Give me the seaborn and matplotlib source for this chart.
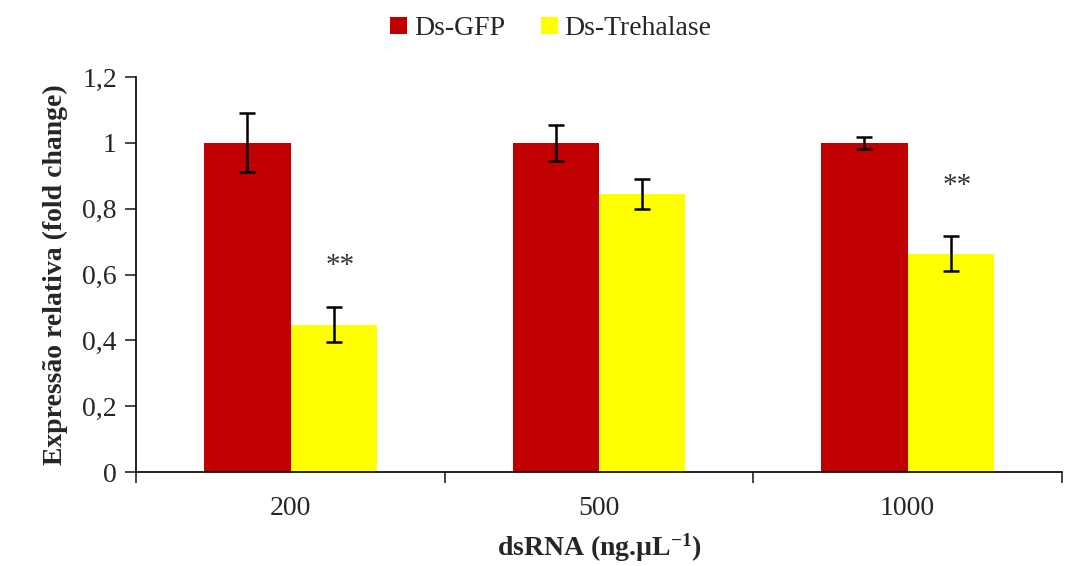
import numpy as np
import pandas as pd
import seaborn as sns
import matplotlib.pyplot as plt

# --- data ---
doses = ["200", "500", "1000"]
groups = ["Ds-GFP", "Ds-Trehalase"]
gfp_vals = [1.0, 1.0, 1.0]
gfp_err = [0.09, 0.055, 0.018]
treh_vals = [0.447, 0.845, 0.663]
treh_err = [0.053, 0.045, 0.053]
stars = ["**", "", "**"]
star_y = [0.625, 0, 0.87]
yticks = [0, 0.2, 0.4, 0.6, 0.8, 1.0, 1.2]
ytick_labels = ["0", "0,2", "0,4", "0,6", "0,8", "1", "1,2"]
colors = ["#C00000", "#FFFF00"]

sns.set_style("ticks")
plt.rcParams['font.family'] = ['Liberation Serif', 'DejaVu Serif']
plt.rcParams['mathtext.fontset'] = 'custom'
plt.rcParams['mathtext.rm'] = 'Liberation Serif:bold'
plt.rcParams['mathtext.default'] = 'rm'

df = pd.DataFrame({
    "dose": doses * 2,
    "group": [groups[0]] * 3 + [groups[1]] * 3,
    "val": gfp_vals + treh_vals,
})
errs = [gfp_err, treh_err]

fig = plt.figure(figsize=(10.65, 5.66), dpi=100)
ax = fig.add_axes([0.128, 0.166, 0.869, 0.698])

sns.barplot(data=df, x="dose", y="val", hue="group", palette=colors,
            width=0.56, saturation=1, errorbar=None, ax=ax, linewidth=0)

for cont, e in zip(ax.containers, errs):
    xs = [b.get_x() + b.get_width() / 2 for b in cont]
    hs = [b.get_height() for b in cont]
    ax.errorbar(xs, hs, yerr=e, fmt="none", ecolor="black", elinewidth=1.8,
                capsize=6, capthick=1.8)

treh_bars = ax.containers[1]
for b, s, y in zip(treh_bars, stars, star_y):
    if s:
        ax.text(b.get_x() + b.get_width() / 2 + 0.02, y, s, ha="center", va="center",
                fontsize=21, color="#333333")

ax.set_xlim(-0.5, 2.5)
ax.set_ylim(0, 1.2)
ax.set_yticks(yticks, ytick_labels)
ax.set_xticks([-0.5, 0.5, 1.5, 2.5], minor=True)
ax.tick_params(axis="x", which="major", length=0, pad=17, labelsize=20)
ax.tick_params(axis="x", which="minor", length=8, width=1.2, direction="out")
ax.tick_params(axis="y", length=8, width=1.2, labelsize=20, pad=6)
sns.despine(ax=ax)
for sp in ["left", "bottom"]:
    ax.spines[sp].set_linewidth(1.2)
    ax.spines[sp].set_color("black")

ax.set_xlabel("dsRNA (ng.\u00b5L$^{-1}$)", fontsize=20, fontweight="bold", labelpad=8)
ax.set_ylabel("Expressão relativa (fold change)", fontsize=20, fontweight="bold", labelpad=10)

ax.legend(loc="lower center", bbox_to_anchor=(0.448, 1.055), ncol=2, frameon=False,
          fontsize=20, handlelength=0.6, handleheight=0.6, handletextpad=0.25,
          columnspacing=1.3, title=None, borderpad=0)

fig.savefig("out.png", dpi=100)
